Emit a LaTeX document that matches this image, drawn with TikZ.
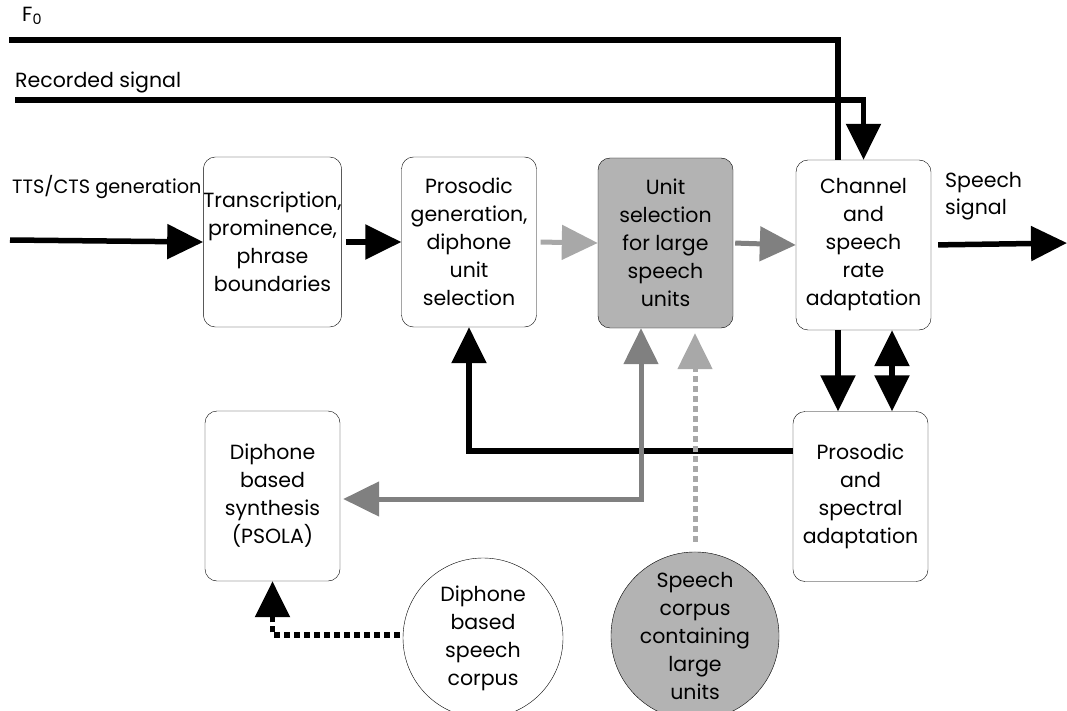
\documentclass[tikz,border=0pt]{standalone}
\usepackage{fontspec}
\setmainfont{Poppins}
\usetikzlibrary{arrows.meta,positioning,calc}
\definecolor{boxgray}{RGB}{179,179,179}
\definecolor{midarrow}{RGB}{128,128,128}
\definecolor{lightarrow}{RGB}{168,168,168}
\tikzset{
  blk/.style={draw=black,rounded corners=12pt,minimum width=135pt,minimum height=170pt,align=center,inner sep=0pt,font=\fontsize{20.5}{28}\selectfont},
  circ/.style={draw=black,circle,minimum size=160pt,align=center,inner sep=0pt,font=\fontsize{20.5}{28}\selectfont},
  lbl/.style={inner sep=0pt,font=\fontsize{20.5}{27}\selectfont,align=left},
  tip/.style={-{Triangle[length=36pt,width=34pt]}},
  bline/.style={line width=5.5pt,draw=black},
  mline/.style={line width=5pt,draw=midarrow},
  lline/.style={line width=5pt,draw=lightarrow},
}
\begin{document}
\begin{tikzpicture}[x=1pt,y=-1pt]
\useasboundingbox (0,0) rectangle (1067,711);
% boxes
\node[blk] (tr) at (272.5,242) {Transcription,\\prominence,\\phrase\\boundaries};
\node[blk] (pg) at (469,242) {Prosodic\\generation,\\diphone\\unit\\selection};
\node[blk,fill=boxgray] (us) at (665.5,243) {Unit\\selection\\for large\\speech\\units};
\node[blk] (ch) at (863.5,245) {Channel\\and\\speech\\rate\\adaptation};
\node[blk] (ps) at (860.5,496.5) {Prosodic\\and\\spectral\\adaptation};
\node[blk] (ds) at (272.5,496) {Diphone\\based\\synthesis\\(PSOLA)};
\node[circ] (dc) at (483,638) {Diphone\\based\\speech\\corpus};
\node[circ,fill=boxgray,minimum size=156pt] (sc) at (695,636) {Speech\\corpus\\containing\\large\\units};
% labels
\node[lbl,anchor=west] (f0) at (22,16) {F\textsubscript{0}};
\node[lbl,anchor=west] (rec) at (15,82) {Recorded signal};
\node[lbl,anchor=west,font=\fontsize{19.3}{27}\selectfont] (tts) at (12,187) {TTS/CTS generation};
\node[lbl,anchor=north west] (ss) at (945,172) {Speech\\signal};
% free ends
\coordinate (f0s) at (9,40);
\coordinate (recs) at (15,100);
\coordinate (ttss) at (10,240);
\coordinate (out) at (1067,243);
% connectors
\draw[bline] (f0s) -| ([xshift=-25.5pt]ch.north);
\draw[bline,tip] (recs) -| (ch.north);
\draw[bline,tip] (ttss) -- (tr.west);
\draw[bline,tip,shorten <=4pt] (tr.east) -- (pg.west);
\draw[lline,tip,shorten <=4pt] (pg.east) -- (us.west);
\draw[mline,tip,shorten <=2pt] (us.east) -- (ch.west);
\draw[bline,tip,shorten <=7pt] (ch.east) -- (out);
\draw[bline,tip] ([xshift=-25.5pt]ch.south) -- ([xshift=-25.5pt]ch.south |- ps.north);
\draw[bline,{Triangle[length=36pt,width=34pt]}-{Triangle[length=36pt,width=34pt]}] ([xshift=28.5pt]ch.south) -- ([xshift=28.5pt]ch.south |- ps.north);
\draw[bline,tip] ([yshift=45.5pt]ps.west) -| (pg.south);
\draw[mline,{Triangle[length=36pt,width=34pt]}-{Triangle[length=36pt,width=34pt]},shorten >=3pt] ([xshift=-24.5pt]us.south) |- ([yshift=-3pt]ds.east);
\draw[lline,tip,dash pattern=on 6pt off 4pt,shorten <=10pt,shorten >=5pt] (sc.north) -- (sc.north |- us.south);
\draw[bline,tip,dash pattern=on 6pt off 4pt,shorten <=3pt] ([yshift=3pt]dc.west) -| (ds.south);
\end{tikzpicture}
\end{document}
